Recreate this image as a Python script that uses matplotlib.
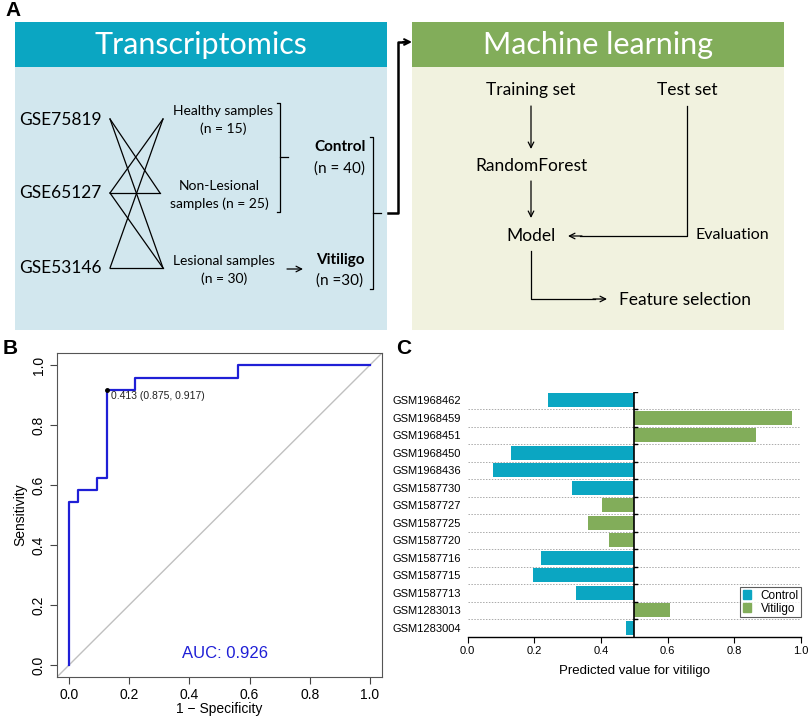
import numpy as np
import matplotlib
matplotlib.use("Agg")
import matplotlib.pyplot as plt
from matplotlib.patches import Rectangle, Patch

#  Panel B: ROC curve (step corners)
roc_fpr = [0.0, 0.0, 0.031, 0.094, 0.125, 0.219, 0.5625, 1.0]
roc_tpr = [0.0, 0.542, 0.583, 0.625, 0.917, 0.958, 1.0, 1.0]
best_pt = (0.125, 0.917)
best_txt = "0.413 (0.875, 0.917)"
auc_txt = "AUC: 0.926"

#  Panel C: predicted values, listed top to bottom
samples = ["GSM1968462", "GSM1968459", "GSM1968451", "GSM1968450", "GSM1968436",
           "GSM1587730", "GSM1587727", "GSM1587725", "GSM1587720", "GSM1587716",
           "GSM1587715", "GSM1587713", "GSM1283013", "GSM1283004"]
pred = [0.240, 0.972, 0.864, 0.130, 0.075, 0.312, 0.404, 0.360, 0.424, 0.221,
        0.197, 0.326, 0.607, 0.474]
group = ["Control", "Vitiligo", "Vitiligo", "Control", "Control", "Control", "Vitiligo",
         "Vitiligo", "Vitiligo", "Control", "Control", "Control", "Vitiligo", "Control"]

c_teal = "#0ba6c2"
c_green = "#82ad5a"
c_blue_bg = "#d2e7ee"
c_green_bg = "#f1f2df"
cols = {"Control": c_teal, "Vitiligo": c_green}

W, H = 809, 720
fig = plt.figure(figsize=(W/100, H/100), dpi=100)

#  Panel A: schematic, drawn in pixel coordinates
ax = fig.add_axes([0, 0, 1, 1])
ax.set_xlim(0, W)
ax.set_ylim(H, 0)
ax.axis("off")
cal = "Lato"

ax.add_patch(Rectangle((15, 22), 372, 308, color=c_blue_bg, lw=0))
ax.add_patch(Rectangle((15, 22), 372, 45, color=c_teal, lw=0))
ax.add_patch(Rectangle((412, 22), 372, 308, color=c_green_bg, lw=0))
ax.add_patch(Rectangle((412, 22), 372, 45, color=c_green, lw=0))
ax.text(201, 45, "Transcriptomics", color="white", fontsize=22, family=cal,
        ha="center", va="center")
ax.text(598, 45, "Machine learning", color="white", fontsize=22, family=cal,
        ha="center", va="center")

gse = ["GSE75819", "GSE65127", "GSE53146"]
gse_y = [120, 193, 268]
for g, yy in zip(gse, gse_y):
    ax.text(19, yy, g, fontsize=12.5, family=cal, ha="left", va="center")

# links between datasets and sample types
left = {0: (110, 119), 1: (110, 193), 2: (110, 268)}
right = {0: (163, 119), 1: (160, 193), 2: (163, 268)}
links = [(0, 1), (0, 2), (1, 0), (1, 1), (1, 2), (2, 0), (2, 2)]
for a, b in links:
    ax.plot([left[a][0], right[b][0]], [left[a][1], right[b][1]], color="k", lw=0.9)

fs = 10
ax.text(223, 111, "Healthy samples", fontsize=fs, family=cal, ha="center", va="center")
ax.text(223, 129, "(n = 15)", fontsize=fs, family=cal, ha="center", va="center")
ax.text(219, 186, "Non-Lesional", fontsize=fs, family=cal, ha="center", va="center")
ax.text(219, 204, "samples (n = 25)", fontsize=fs, family=cal, ha="center", va="center")
ax.text(224, 261, "Lesional samples", fontsize=fs, family=cal, ha="center", va="center")
ax.text(224, 279, "(n = 30)", fontsize=fs, family=cal, ha="center", va="center")

ax.text(340, 147, "Control", fontsize=11, family=cal, fontweight="bold", ha="center", va="center")
ax.text(340, 169, "(n = 40)", fontsize=11, family=cal, ha="center", va="center")
ax.text(340, 260, "Vitiligo", fontsize=11, family=cal, fontweight="bold", ha="center", va="center")
ax.text(340, 281, "(n =30)", fontsize=11, family=cal, ha="center", va="center")

# brackets
ax.plot([277, 280, 280, 277], [103, 103, 212, 212], color="k", lw=0.9)
ax.plot([280, 288], [157, 157], color="k", lw=0.9)
ax.plot([370, 373, 373, 370], [137, 137, 289, 289], color="k", lw=0.9)
ax.plot([373, 381], [213, 213], color="k", lw=0.9)
ax.plot([388, 398, 398, 404], [213, 213, 42, 42], color="k", lw=1.8)
ax.annotate("", xy=(412, 42), xytext=(403, 42),
            arrowprops=dict(arrowstyle="->", color="k", lw=1.5, shrinkA=0, shrinkB=0))
ax.annotate("", xy=(303, 269), xytext=(287, 269),
            arrowprops=dict(arrowstyle="->", color="k", lw=0.9, shrinkA=0, shrinkB=0))

# machine learning flow
fm = 12.5
ax.text(531, 90, "Training set", fontsize=fm, family=cal, ha="center", va="center")
ax.text(687, 90, "Test set", fontsize=fm, family=cal, ha="center", va="center")
ax.text(531, 166, "RandomForest", fontsize=fm, family=cal, ha="center", va="center")
ax.text(531, 236, "Model", fontsize=fm, family=cal, ha="center", va="center")
ax.text(696, 235, "Evaluation", fontsize=11.5, family=cal, ha="left", va="center")
ax.text(619, 300, "Feature selection", fontsize=fm, family=cal, ha="left", va="center")
arr = dict(arrowstyle="->", color="k", lw=0.9, shrinkA=0, shrinkB=0)
ax.annotate("", xy=(531, 149), xytext=(531, 106), arrowprops=arr)
ax.annotate("", xy=(531, 218), xytext=(531, 181), arrowprops=arr)
ax.plot([687, 687, 580], [106, 236, 236], color="k", lw=0.9)
ax.annotate("", xy=(568, 236), xytext=(582, 236), arrowprops=arr)
ax.plot([531, 531, 595], [251, 299, 299], color="k", lw=0.9)
ax.annotate("", xy=(607, 299), xytext=(593, 299), arrowprops=arr)

ax.text(5, 10, "A", fontsize=15, fontweight="bold", family="Liberation Sans", ha="left", va="center")
ax.text(3, 348, "B", fontsize=15, fontweight="bold", family="Liberation Sans", ha="left", va="center")
ax.text(396, 348, "C", fontsize=15, fontweight="bold", family="Liberation Sans", ha="left", va="center")

#  Panel B: ROC
arial = "Liberation Sans"
axb = fig.add_axes([57/W, 1 - 677/H, (382-57)/W, (677-353)/H])
axb.plot([-1, 2], [-1, 2], color="#c0c0c0", lw=1)
axb.plot(roc_fpr, roc_tpr, drawstyle="steps-post", color="#1f1fd6", lw=1.6)
axb.plot(*best_pt, "o", color="k", ms=2.5)
axb.text(best_pt[0] + 0.013, best_pt[1] - 0.02, best_txt, fontsize=7.5, family=arial,
         color="#222222", ha="left", va="center")
axb.text(0.517, 0.04, auc_txt, fontsize=12, family=arial, color="#1f1fd6",
         ha="center", va="center")
axb.set_xlim(-0.04, 1.04)
axb.set_ylim(-0.04, 1.04)
ticks = [0.0, 0.2, 0.4, 0.6, 0.8, 1.0]
axb.set_xticks(ticks)
axb.set_yticks(ticks)
axb.set_xticklabels(["%.1f" % t for t in ticks], fontsize=10, family=arial)
axb.set_yticklabels(["%.1f" % t for t in ticks], fontsize=10, family=arial,
                    rotation=90, va="center")
axb.tick_params(direction="out", length=5, width=0.8, color="#444444", pad=3)
axb.set_xlabel("1 \u2212 Specificity", fontsize=10, family=arial, labelpad=0)
axb.set_ylabel("Sensitivity", fontsize=10, family=arial, labelpad=3)
for s in axb.spines.values():
    s.set_color("#555555")
    s.set_linewidth(0.8)

#  Panel C: predicted values
axc = fig.add_axes([467.7/W, 1 - 636.7/H, (801-467.7)/W, (636.7-391.7)/H])
n = len(samples)
ypos = np.arange(n)[::-1]
for yy, v, g in zip(ypos, pred, group):
    axc.barh(yy, v - 0.5, left=0.5, height=0.8, color=cols[g], lw=0)
for k in range(n - 1):
    axc.plot([0, 1], [k + 0.5, k + 0.5], color="#aaaaaa", lw=0.7, ls=(0, (1.5, 1.5)), zorder=0)
axc.plot([0.5, 0.5], [-0.5, n - 0.5], color="k", lw=1.2)
for k in range(n):
    axc.plot([0.5, 0.508], [k + 0.5, k + 0.5], color="k", lw=1)
axc.set_xlim(0, 1.0)
axc.set_ylim(-0.5, n - 0.5)
axc.set_yticks(ypos)
axc.set_yticklabels(samples, fontsize=8, family=arial)
axc.set_xticks(ticks)
axc.set_xticklabels(["%.1f" % t for t in ticks], fontsize=8, family=arial)
axc.tick_params(axis="y", length=0, pad=5)
axc.tick_params(axis="x", direction="out", length=4, width=0.8, pad=3)
axc.set_xlabel("Predicted value for vitiligo", fontsize=9.5, family=arial, labelpad=6)
for s in ["top", "right", "left"]:
    axc.spines[s].set_visible(False)
axc.spines["bottom"].set_linewidth(1)
axc.set_facecolor("none")
handles = [Patch(color=c_teal, label="Control"), Patch(color=c_green, label="Vitiligo")]
leg = axc.legend(handles=handles, loc="lower right", bbox_to_anchor=(1.0, 0.08),
                 prop={"family": arial, "size": 8.5}, frameon=True, fancybox=False,
                 handlelength=0.7, handleheight=0.7, handletextpad=0.8, borderpad=0.2,
                 labelspacing=0.1, borderaxespad=0)
leg.get_frame().set_edgecolor("#333333")
leg.get_frame().set_linewidth(0.8)

plt.savefig("out.png", dpi=100)
plt.close()
